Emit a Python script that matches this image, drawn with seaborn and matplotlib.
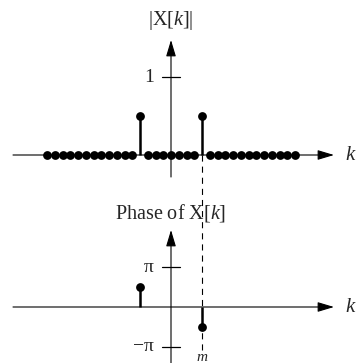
import numpy as np
import matplotlib
matplotlib.use("Agg")
import matplotlib.pyplot as plt
import seaborn as sns

sns.set_style("white")
plt.rcParams["font.family"] = ["Liberation Serif", "DejaVu Serif"]
plt.rcParams["mathtext.fontset"] = "custom"
plt.rcParams["mathtext.rm"] = "Liberation Serif"
plt.rcParams["mathtext.it"] = "Liberation Serif:italic"

# DFT magnitude over k = -16 .. 16 (single cosine: two lines of height 1/2 at k = -m, m)
k_values = [-16, -15, -14, -13, -12, -11, -10, -9, -8, -7, -6, -5, -4, -3, -2, -1,
            0, 1, 2, 3, 4, 5, 6, 7, 8, 9, 10, 11, 12, 13, 14, 15, 16]
magnitude = [0, 0, 0, 0, 0, 0, 0, 0, 0, 0, 0, 0, 0.5, 0, 0, 0,
             0, 0, 0, 0, 0.5, 0, 0, 0, 0, 0, 0, 0, 0, 0, 0, 0, 0]
m_index = 4

# phase is only defined at the two nonzero lines
phase_k = [-4, 4]
phase_values = [np.pi / 2, -np.pi / 2]

mag_ticks = [1]
mag_tick_labels = ["1"]
phase_ticks = [np.pi, -np.pi]
phase_tick_labels = ["π", "−π"]

W, H = 357, 363
fig = plt.figure(figsize=(W / 100, H / 100), dpi=100)
ax_top = fig.add_axes([0, 0, 1, 1])
ax_bot = fig.add_axes([0, 0, 1, 1])

# pixel geometry of the two panels
x0_px, k_px = 171.0, 7.75
top_axis_px, unit_px = 155.0, 78.0
bot_axis_px, rad_px = 307.0, 39.65 / np.pi

xlim = (-x0_px / k_px, (W - x0_px) / k_px)
for ax in (ax_top, ax_bot):
    ax.set_xlim(*xlim)
    ax.set_axis_off()
    ax.patch.set_alpha(0)
ax_top.set_ylim((top_axis_px - H) / unit_px, top_axis_px / unit_px)
ax_bot.set_ylim((bot_axis_px - H) / rad_px, bot_axis_px / rad_px)

arrow = dict(arrowstyle="-|>,head_length=1.0,head_width=0.3", lw=0.8,
             color="black", shrinkA=0, shrinkB=0, mutation_scale=10)
half_tick = 9 / k_px
x_left, x_tip = (13 - x0_px) / k_px, (334 - x0_px) / k_px

# ---- magnitude panel ----
ax_top.annotate("", xy=(x_tip, 0), xytext=(x_left, 0), arrowprops=arrow)
ax_top.annotate("", xy=(0, (top_axis_px - 40) / unit_px),
                xytext=(0, (top_axis_px - 177) / unit_px), arrowprops=arrow)
# dashed guide at k = m running down to the phase panel
ax_top.plot([m_index, m_index], [0, (top_axis_px - 350) / unit_px],
            color="black", lw=0.8, dashes=[5.5, 4.5])

k_arr = np.array(k_values)
mag_arr = np.array(magnitude)
nz = mag_arr > 0
ax_top.vlines(k_arr[nz], 0, mag_arr[nz], color="black", lw=1.8)
sns.scatterplot(x=k_values, y=magnitude, ax=ax_top, color="black", s=40,
                linewidth=0, zorder=5, legend=False)

for t, lab in zip(mag_ticks, mag_tick_labels):
    ax_top.plot([-half_tick, half_tick], [t, t], color="black", lw=0.9)
    ax_top.annotate(lab, xy=(0, t), xytext=(-12.5, 0), textcoords="offset points",
                    ha="right", va="center", fontsize=14)

ax_top.text(0, (top_axis_px - 20) / unit_px, r"$|\mathrm{X}[k]|$",
            ha="center", va="center", fontsize=14.5)
ax_top.text((350 - x0_px) / k_px, 0, "k", style="italic",
            ha="center", va="center", fontsize=15)
ax_top.text(m_index, (top_axis_px - 357) / unit_px, "m", style="italic",
            ha="center", va="center", fontsize=11)

# ---- phase panel ----
ax_bot.annotate("", xy=(x_tip, 0), xytext=(x_left, 0), arrowprops=arrow)
ax_bot.annotate("", xy=(0, (bot_axis_px - 230) / rad_px),
                xytext=(0, (bot_axis_px - H - 5) / rad_px), arrowprops=arrow)
ax_bot.vlines(phase_k, 0, phase_values, color="black", lw=1.8)
sns.scatterplot(x=phase_k, y=phase_values, ax=ax_bot, color="black", s=40,
                linewidth=0, zorder=5, legend=False)

for t, lab in zip(phase_ticks, phase_tick_labels):
    ax_bot.plot([-half_tick, half_tick], [t, t], color="black", lw=0.9)
    ax_bot.annotate(lab, xy=(0, t), xytext=(-12.5, 0), textcoords="offset points",
                    ha="right", va="center", fontsize=14)

ax_bot.text(0, (bot_axis_px - 213) / rad_px, r"Phase of $\mathrm{X}[k]$",
            ha="center", va="center", fontsize=14.5)
ax_bot.text((350 - x0_px) / k_px, 0, "k", style="italic",
            ha="center", va="center", fontsize=15)

fig.savefig("out.png", dpi=100, facecolor="white")
